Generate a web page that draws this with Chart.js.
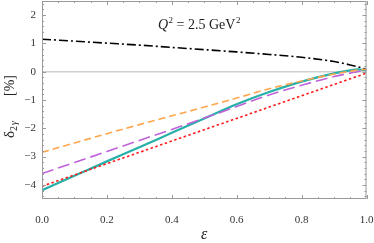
<!DOCTYPE html>
<html>
<head>
<meta charset="utf-8">
<script src="https://cdn.jsdelivr.net/npm/chart.js@4.4.1/dist/chart.umd.min.js"></script>
<style>
    html, body { margin: 0; padding: 0; background: #fff; }
    #wrap { width: 374px; height: 243px; }
</style>
</head>
<body>
<div id="wrap"><canvas id="chart" width="374" height="243"></canvas></div>
<script>
// epsilon grid and curves
const eps = [0, 0.1, 0.2, 0.3, 0.4, 0.5, 0.6, 0.7, 0.8, 0.9, 0.95, 0.975, 1.0];
const blackCurve  = [1.15, 1.08, 1.01, 0.94, 0.86, 0.78, 0.70, 0.61, 0.51, 0.36, 0.24, 0.17, 0.08];
const orangeCurve = [-2.85, -2.52, -2.19, -1.87, -1.56, -1.25, -0.93, -0.60, -0.33, -0.08, 0.02, 0.06, 0.09];
const purpleCurve = [-3.60, -3.21, -2.82, -2.43, -2.04, -1.64, -1.23, -0.82, -0.48, -0.17, -0.05, 0.01, 0.05];
const tealCurve   = [-4.19, -3.68, -3.17, -2.67, -2.16, -1.65, -1.15, -0.72, -0.35, -0.06, 0.05, 0.08, 0.05];
const redCurve    = [-4.05, -3.65, -3.25, -2.85, -2.45, -2.05, -1.65, -1.25, -0.85, -0.45, -0.25, -0.15, -0.05];

const xTicks = [0, 0.2, 0.4, 0.6, 0.8, 1.0];
const xTickLabels = ["0.0", "0.2", "0.4", "0.6", "0.8", "1.0"];
const yTicks = [-4, -3, -2, -1, 0, 1, 2];
const yTickLabels = ["\u22124", "\u22123", "\u22122", "\u22121", "0", "1", "2"];

const SERIF = "'Liberation Serif', 'DejaVu Serif', serif";

function toPoints(values) {
    return eps.map((e, i) => ({ x: e, y: values[i] }));
}

function lineSet(values, color, width, dash) {
    return {
        data: toPoints(values),
        borderColor: color,
        borderWidth: width,
        borderDash: dash,
        pointRadius: 0,
        fill: false,
        cubicInterpolationMode: "monotone",
    };
}

// Mathematica style frame with inward ticks on all four sides
const frameTicks = {
    id: "frameTicks",
    afterDatasetsDraw(chart) {
        const { ctx, chartArea: a, scales } = chart;
        const xs = scales.x, ys = scales.y;
        ctx.save();
        ctx.strokeStyle = "#9a9a9a";
        ctx.lineWidth = 1;
        ctx.strokeRect(a.left + 0.5, a.top + 0.5, a.right - a.left - 1, a.bottom - a.top - 1);
        ctx.beginPath();
        for (let k = 0; k <= 20; k++) {
            const px = Math.round(xs.getPixelForValue(k * 0.05)) + 0.5;
            const len = k % 4 === 0 ? 4 : 2;
            ctx.moveTo(px, a.bottom); ctx.lineTo(px, a.bottom - len);
            ctx.moveTo(px, a.top); ctx.lineTo(px, a.top + len);
        }
        for (let k = -22; k <= 12; k++) {
            const py = Math.round(ys.getPixelForValue(k * 0.2)) + 0.5;
            const len = k % 5 === 0 ? 4 : 2;
            ctx.moveTo(a.left, py); ctx.lineTo(a.left + len, py);
            ctx.moveTo(a.right, py); ctx.lineTo(a.right - len, py);
        }
        ctx.stroke();
        ctx.restore();
    },
};

// in-plot label and the rotated y-axis title
const labels = {
    id: "labels",
    afterDraw(chart) {
        const { ctx } = chart;
        ctx.save();
        ctx.fillStyle = "#222";
        ctx.textBaseline = "alphabetic";
        ctx.textAlign = "left";

        let x = 158;
        const base = 29;
        ctx.font = "italic 14px " + SERIF;
        ctx.fillText("Q", x, base);
        x += ctx.measureText("Q").width + 0.5;
        ctx.font = "9px " + SERIF;
        ctx.fillText("2", x, base - 6);
        x += ctx.measureText("2").width;
        ctx.font = "14px " + SERIF;
        ctx.fillText(" = 2.5 GeV", x, base);
        x += ctx.measureText(" = 2.5 GeV").width + 0.5;
        ctx.font = "9px " + SERIF;
        ctx.fillText("2", x, base - 6);

        ctx.translate(14, 138);
        ctx.rotate(-Math.PI / 2);
        let t = 0;
        ctx.font = "15px " + SERIF;
        ctx.fillText("\u03b4", t, 0);
        t += ctx.measureText("\u03b4").width;
        ctx.font = "10px " + SERIF;
        ctx.fillText("2", t, 3);
        t += ctx.measureText("2").width + 1;
        ctx.font = "italic 10px " + SERIF;
        ctx.fillText("\u03b3", t, 3);
        ctx.font = "14px " + SERIF;
        ctx.textAlign = "right";
        ctx.fillText("[%]", 63, 0);
        ctx.restore();
    },
};

new Chart(document.getElementById("chart"), {
    type: "line",
    data: {
        datasets: [
            lineSet(redCurve, "#ff1a1a", 1.6, [2.5, 2.5]),
            lineSet(orangeCurve, "#ffa64d", 1.6, [7, 4]),
            lineSet(purpleCurve, "#bf62d9", 1.6, [12, 5]),
            lineSet(tealCurve, "#26b0a8", 2.2, []),
            lineSet(blackCurve, "#000000", 1.6, [9, 3, 2, 3]),
        ],
    },
    options: {
        responsive: false,
        animation: false,
        layout: { padding: { top: 1, right: 7.5, left: 0, bottom: 0 } },
        plugins: {
            legend: { display: false },
            tooltip: { enabled: false },
        },
        scales: {
            x: {
                type: "linear",
                min: 0,
                max: 1,
                afterBuildTicks: (scale) => { scale.ticks = xTicks.map((v) => ({ value: v })); },
                afterFit: (scale) => {
                    scale.height = 44;
                    scale.paddingLeft = 0;
                    scale.paddingRight = 0;
                },
                border: { display: false },
                grid: { display: false },
                ticks: {
                    padding: 7,
                    color: "#333",
                    font: { family: SERIF, size: 11 },
                    maxRotation: 0,
                    callback: (v, i) => xTickLabels[i],
                },
                title: {
                    display: true,
                    text: "\u03b5",
                    color: "#222",
                    padding: { top: 0, bottom: 0 },
                    font: { family: SERIF, size: 16, style: "italic", lineHeight: 1 },
                },
            },
            y: {
                min: -4.5,
                max: 2.5,
                afterBuildTicks: (scale) => { scale.ticks = yTicks.map((v) => ({ value: v })); },
                afterFit: (scale) => {
                    scale.width = 42;
                    scale.paddingTop = 0;
                    scale.paddingBottom = 0;
                },
                border: { display: false },
                grid: {
                    drawTicks: false,
                    lineWidth: 1.5,
                    color: (c) => (c.tick && c.tick.value === 0 ? "#cfcfcf" : "rgba(0,0,0,0)"),
                },
                ticks: {
                    padding: 6,
                    color: "#333",
                    font: { family: SERIF, size: 11 },
                    callback: (v, i) => yTickLabels[i],
                },
            },
        },
    },
    plugins: [frameTicks, labels],
});
</script>
</body>
</html>
